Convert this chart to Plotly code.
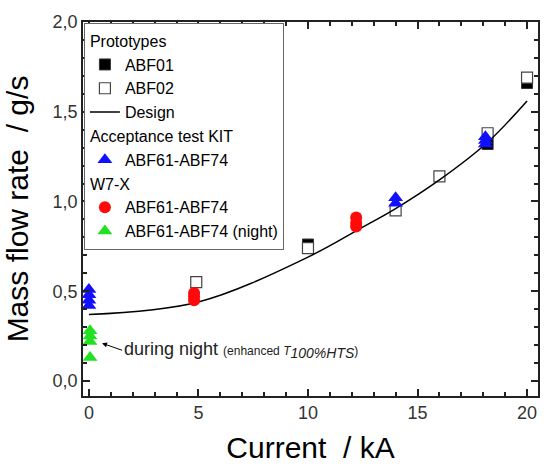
import plotly.graph_objects as go

# ---- data ----
design_I = [0, 5, 10, 12.4, 14, 16, 18.2, 20]
design_m = [0.37, 0.44, 0.69, 0.85, 0.96, 1.12, 1.33, 1.56]

abf01_I = [10, 18.2, 20]
abf01_m = [0.76, 1.32, 1.66]

abf02_I = [4.9, 10, 14, 16, 18.2, 20]
abf02_m = [0.55, 0.74, 0.95, 1.14, 1.38, 1.69]

kit_I = [0, 0, 0, 0, 14, 14, 18.1, 18.1, 18.1]
kit_m = [0.42, 0.45, 0.48, 0.51, 0.99, 1.02, 1.32, 1.34, 1.36]

w7x_I = [4.8, 4.8, 4.8, 12.2, 12.2, 12.2]
w7x_m = [0.45, 0.47, 0.49, 0.86, 0.88, 0.91]

night_I = [0.05, 0.05, 0.05, 0.05]
night_m = [0.22, 0.25, 0.28, 0.13]

FONT = "Liberation Sans"
TICKC = "#222222"

fig = go.Figure()

fig.add_trace(go.Scatter(
    x=abf01_I, y=abf01_m, mode="markers", name="ABF01",
    marker=dict(symbol="square", size=11, color="black",
                line=dict(color="#333333", width=1)),
    legendgroup="proto",
    legendgrouptitle=dict(text="Prototypes", font=dict(size=16, color="black", family=FONT))))

fig.add_trace(go.Scatter(
    x=abf02_I, y=abf02_m, mode="markers", name="ABF02",
    marker=dict(symbol="square", size=11, color="white",
                line=dict(color="#444444", width=1.2)),
    legendgroup="proto"))

fig.add_trace(go.Scatter(
    x=design_I, y=design_m, mode="lines", name="Design",
    line=dict(color="black", width=1.5, shape="spline"),
    legendgroup="proto"))

fig.add_trace(go.Scatter(
    x=kit_I, y=kit_m, mode="markers", name="ABF61-ABF74",
    marker=dict(symbol="triangle-up", size=13, color="#1010ff"),
    legendgroup="kit",
    legendgrouptitle=dict(text="Acceptance test KIT", font=dict(size=16, color="black", family=FONT))))

fig.add_trace(go.Scatter(
    x=w7x_I, y=w7x_m, mode="markers", name="ABF61-ABF74",
    marker=dict(symbol="circle", size=12, color="#ff0a0a"),
    legendgroup="w7x",
    legendgrouptitle=dict(text="W7-X", font=dict(size=16, color="black", family=FONT))))

fig.add_trace(go.Scatter(
    x=night_I, y=night_m, mode="markers", name="ABF61-ABF74 (night)",
    marker=dict(symbol="triangle-up", size=13, color="#22e022"),
    legendgroup="w7x"))

# annotation: arrow + text
fig.add_annotation(
    x=0.6, y=0.21, ax=20, ay=7, showarrow=True,
    arrowhead=2, arrowsize=1, arrowwidth=1, arrowcolor="black",
    xanchor="left", yanchor="middle",
    text="during night <span style='font-size:12px'>(enhanced <i>T</i>"
         "<sub><span style='font-size:14px'><i>100%HTS</i></span></sub>)</span>",
    font=dict(size=18, color="#222222", family=FONT))

fig.update_xaxes(
    range=[-0.27, 20.5], dtick=5, tick0=0,
    showline=True, linecolor=TICKC, linewidth=1.5, mirror="allticks",
    ticks="inside", ticklen=7, tickwidth=2, tickcolor=TICKC,
    minor=dict(ticks="inside", ticklen=4, tickwidth=2, dtick=1, tickcolor=TICKC),
    tickfont=dict(size=18, color="#333333", family=FONT),
    title=dict(text="Current  / kA", font=dict(size=30, color="black", family=FONT)),
    showgrid=False, zeroline=False)
fig.update_yaxes(
    range=[-0.084, 2.0], dtick=0.5, tick0=0, tickformat=".1f",
    showline=True, linecolor=TICKC, linewidth=1.5, mirror="allticks",
    ticks="inside", ticklen=7, tickwidth=2, tickcolor=TICKC,
    minor=dict(ticks="inside", ticklen=4, tickwidth=2, dtick=0.1, tickcolor=TICKC),
    tickfont=dict(size=18, color="#333333", family=FONT),
    title=dict(text="Mass flow rate  / g/s", font=dict(size=30, color="black", family=FONT)),
    showgrid=False, zeroline=False)

fig.update_layout(
    width=547, height=469,
    margin=dict(l=83, r=7, t=22, b=73),
    separators=", ",
    plot_bgcolor="white",
    legend=dict(
        x=0.002, y=0.998, xanchor="left", yanchor="top",
        bgcolor="white", bordercolor="#666666", borderwidth=1,
        font=dict(size=16, color="black", family=FONT),
        tracegroupgap=0,
    ),
)

fig.write_html("out.html")
